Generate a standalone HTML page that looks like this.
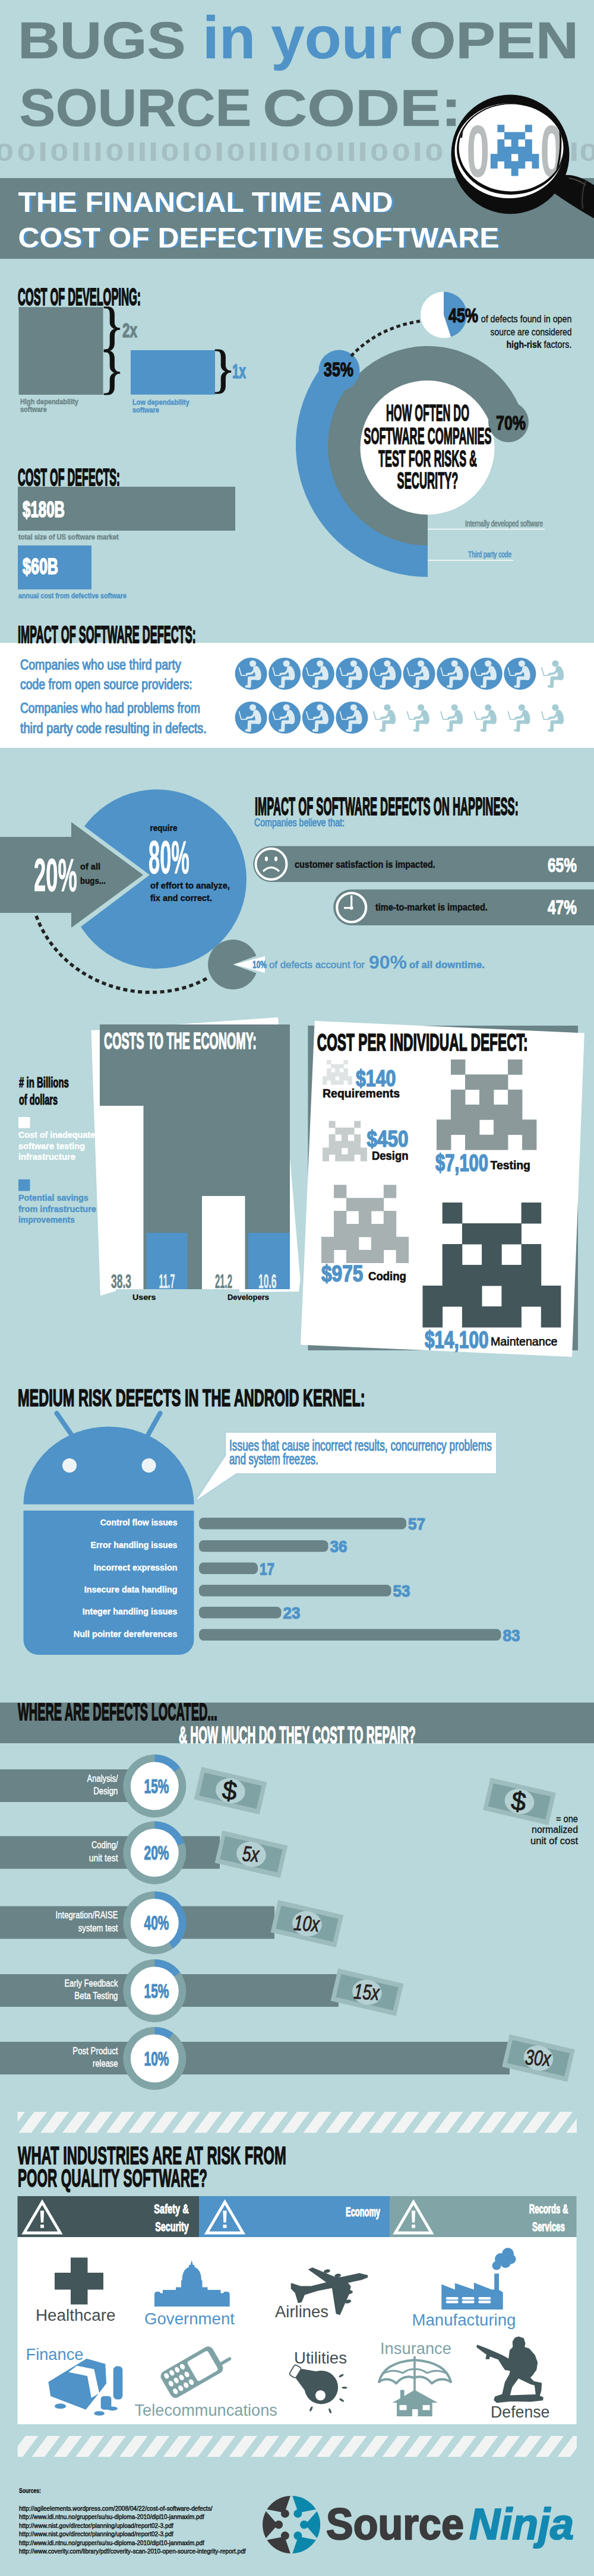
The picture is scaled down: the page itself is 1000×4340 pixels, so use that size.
<!DOCTYPE html>
<html lang="en"><head><meta charset="utf-8"><title>Bugs in your Open Source Code</title>
<style>html,body{margin:0;padding:0;background:#b8d8db}svg{display:block}text{font-family:"Liberation Sans",sans-serif}</style>
</head><body>
<svg width="1000" height="4340" viewBox="0 0 1000 4340">
<defs><filter id="sh" x="-5%" y="-20%" width="110%" height="150%"><feOffset in="SourceAlpha" dx="3.5" dy="0.6" result="o"/><feFlood flood-color="#4f93c8"/><feComposite in2="o" operator="in" result="s"/><feMerge><feMergeNode in="s"/><feMergeNode in="SourceGraphic"/></feMerge></filter></defs>
<rect x="0.0" y="0.0" width="1000.0" height="4340.0" fill="#b8d8db" />
<text transform="translate(29.9,98.0) scale(1.1127,1)" font-size="88.0" font-weight="bold" fill="#698386" text-anchor="start" stroke="#698386" stroke-width="0.60" stroke-linejoin="round" vector-effect="non-scaling-stroke" >BUGS</text>
<text transform="translate(341.1,98.0) scale(1.0026,1)" font-size="100.0" font-weight="bold" fill="#4f93c8" text-anchor="start" stroke="#4f93c8" stroke-width="0.30" stroke-linejoin="round" vector-effect="non-scaling-stroke" >in</text>
<text transform="translate(456.3,98.0) scale(1.0158,1)" font-size="100.0" font-weight="bold" fill="#4f93c8" text-anchor="start" stroke="#4f93c8" stroke-width="0.30" stroke-linejoin="round" vector-effect="non-scaling-stroke" >your</text>
<text transform="translate(689.2,98.0) scale(1.1422,1)" font-size="88.0" font-weight="bold" fill="#698386" text-anchor="start" stroke="#698386" stroke-width="0.60" stroke-linejoin="round" vector-effect="non-scaling-stroke" >OPEN</text>
<text transform="translate(32.6,212.0) scale(1.0384,1)" font-size="88.0" font-weight="bold" fill="#698386" text-anchor="start" stroke="#698386" stroke-width="0.60" stroke-linejoin="round" vector-effect="non-scaling-stroke" >SOURCE</text>
<text transform="translate(442.2,212.0) scale(1.1806,1)" font-size="88.0" font-weight="bold" fill="#698386" text-anchor="start" stroke="#698386" stroke-width="0.60" stroke-linejoin="round" vector-effect="non-scaling-stroke" >CODE:</text>
<text transform="translate(0,270.6) scale(1.320,1)" font-size="42.5" font-weight="bold" fill="#a5bec2" x="-6.0 21.8 63.9 134.4 204.9 246.9 289.0 359.5 401.5 472.0 499.9 541.9 739.1">0000000000000</text>
<clipPath id="c1"><rect x="67.75" y="240" width="8.75" height="32"/><rect x="123.25" y="240" width="8.75" height="32"/><rect x="142.00" y="240" width="8.75" height="32"/><rect x="160.75" y="240" width="8.75" height="32"/><rect x="216.25" y="240" width="8.75" height="32"/><rect x="235.00" y="240" width="8.75" height="32"/><rect x="253.75" y="240" width="8.75" height="32"/><rect x="309.25" y="240" width="8.75" height="32"/><rect x="364.75" y="240" width="8.75" height="32"/><rect x="420.25" y="240" width="8.75" height="32"/><rect x="439.00" y="240" width="8.75" height="32"/><rect x="457.75" y="240" width="8.75" height="32"/><rect x="513.25" y="240" width="8.75" height="32"/><rect x="568.75" y="240" width="8.75" height="32"/><rect x="587.50" y="240" width="8.75" height="32"/><rect x="606.25" y="240" width="8.75" height="32"/><rect x="698.50" y="240" width="8.75" height="32"/><rect x="962.00" y="240" width="8.75" height="32"/></clipPath>
<g clip-path="url(#c1)"><text transform="translate(0,271.2) scale(1.458,1)" font-size="43.8" font-weight="bold" fill="#a5bec2" x="36.3 74.3 87.2 100.0 138.1 151.0 163.8 201.9 239.9 278.0 290.9 303.7 341.8 379.8 392.7 405.6 468.8 649.5">111111111111111111</text></g>
<rect x="0.0" y="300.0" width="1000.0" height="136.0" fill="#698386" />
<g filter="url(#sh)">
<text transform="translate(30.6,356.7) scale(1.0227,1)" font-size="48.5" font-weight="bold" fill="#ffffff" text-anchor="start" >THE FINANCIAL TIME AND</text>
<text transform="translate(30.6,417.2) scale(1.0260,1)" font-size="48.5" font-weight="bold" fill="#ffffff" text-anchor="start" >COST OF DEFECTIVE SOFTWARE</text>
</g>
<path d="M943 296 Q968 290 1000 312 L1000 368 Q960 345 928 322 Z" fill="#0d0d0d"/>
<path d="M958 300 Q975 303 986 312" stroke="#4a4a4a" stroke-width="2" fill="none"/>
<path d="M986 305 Q978 325 981 352" stroke="#3a3a3a" stroke-width="2" fill="none"/>
<ellipse cx="859" cy="260" rx="99.5" ry="100.5" fill="#0d0d0d"/>
<ellipse cx="857" cy="254" rx="91.5" ry="80" fill="#fff"/>
<ellipse cx="859.5" cy="251" rx="90.5" ry="77" fill="#0d0d0d"/>
<clipPath id="lens"><ellipse cx="860.5" cy="249" rx="88" ry="73.5"/></clipPath>
<ellipse cx="860.5" cy="249" rx="88" ry="73.5" fill="#fff"/>
<g clip-path="url(#lens)">
<text transform="translate(0,297.5) scale(0.558,1)" font-size="124" font-weight="bold" fill="#b9bcbd" x="1407.5 1629.8">00</text>
<path d="M930 175 Q960 240 925 325" stroke="#0d0d0d" stroke-width="3" fill="none"/>
<path d="M790 190 Q778 210 776 232" stroke="#0d0d0d" stroke-width="4" fill="none"/>
</g>
<path d="M837.4 210.2h11.9v12.6h-11.9zM883.9 210.2h11.9v12.6h-11.9zM849.0 222.5h11.9v12.6h-11.9zM860.7 222.5h11.9v12.6h-11.9zM872.3 222.5h11.9v12.6h-11.9zM837.4 234.7h11.9v12.6h-11.9zM860.7 234.7h11.9v12.6h-11.9zM883.9 234.7h11.9v12.6h-11.9zM837.4 247.0h11.9v12.6h-11.9zM849.0 247.0h11.9v12.6h-11.9zM860.7 247.0h11.9v12.6h-11.9zM872.3 247.0h11.9v12.6h-11.9zM883.9 247.0h11.9v12.6h-11.9zM825.8 259.3h11.9v12.6h-11.9zM837.4 259.3h11.9v12.6h-11.9zM849.0 259.3h11.9v12.6h-11.9zM872.3 259.3h11.9v12.6h-11.9zM883.9 259.3h11.9v12.6h-11.9zM895.5 259.3h11.9v12.6h-11.9zM825.8 271.5h11.9v12.6h-11.9zM849.0 271.5h11.9v12.6h-11.9zM860.7 271.5h11.9v12.6h-11.9zM872.3 271.5h11.9v12.6h-11.9zM895.5 271.5h11.9v12.6h-11.9zM860.7 283.8h11.9v12.6h-11.9z" fill="#4f93c8"/>
<text transform="translate(30.0,514.0) scale(0.4296,1)" font-size="41.5" font-weight="bold" fill="#111111" text-anchor="start" stroke="#111111" stroke-width="1.60" stroke-linejoin="round" vector-effect="non-scaling-stroke" >COST OF DEVELOPING:</text>
<rect x="31.6" y="517.4" width="142.0" height="147.6" fill="#698386" />
<rect x="220.0" y="590.0" width="142.0" height="74.8" fill="#4f93c8" />
<text transform="translate(167.0,579.0) scale(1.0000,1)" font-size="89.4" font-weight="normal" style="font-family:'Liberation Serif',serif" fill="#111111" text-anchor="start" stroke="#111111" stroke-width="0.90" stroke-linejoin="round" vector-effect="non-scaling-stroke" >}</text>
<text transform="translate(167.0,653.0) scale(1.0000,1)" font-size="89.4" font-weight="normal" style="font-family:'Liberation Serif',serif" fill="#111111" text-anchor="start" stroke="#111111" stroke-width="0.90" stroke-linejoin="round" vector-effect="non-scaling-stroke" >}</text>
<text transform="translate(354.0,651.0) scale(1.0000,1)" font-size="89.4" font-weight="normal" style="font-family:'Liberation Serif',serif" fill="#111111" text-anchor="start" stroke="#111111" stroke-width="0.90" stroke-linejoin="round" vector-effect="non-scaling-stroke" >}</text>
<text transform="translate(206.0,568.0) scale(0.6610,1)" font-size="34.0" font-weight="bold" fill="#698386" text-anchor="start" stroke="#698386" stroke-width="1.20" stroke-linejoin="round" vector-effect="non-scaling-stroke" >2x</text>
<text transform="translate(391.0,637.0) scale(0.6082,1)" font-size="34.0" font-weight="bold" fill="#4f93c8" text-anchor="start" stroke="#4f93c8" stroke-width="1.20" stroke-linejoin="round" vector-effect="non-scaling-stroke" >1x</text>
<text transform="translate(34.0,680.5) scale(0.8116,1)" font-size="13.5" font-weight="bold" fill="#6e8789" text-anchor="start" stroke="#6e8789" stroke-width="0.45" stroke-linejoin="round" vector-effect="non-scaling-stroke" >High dependability</text>
<text transform="translate(34.0,694.0) scale(0.8106,1)" font-size="13.5" font-weight="bold" fill="#6e8789" text-anchor="start" stroke="#6e8789" stroke-width="0.45" stroke-linejoin="round" vector-effect="non-scaling-stroke" >software</text>
<text transform="translate(223.0,681.5) scale(0.8152,1)" font-size="13.5" font-weight="bold" fill="#4f93c8" text-anchor="start" stroke="#4f93c8" stroke-width="0.45" stroke-linejoin="round" vector-effect="non-scaling-stroke" >Low dependability</text>
<text transform="translate(223.0,695.0) scale(0.8106,1)" font-size="13.5" font-weight="bold" fill="#4f93c8" text-anchor="start" stroke="#4f93c8" stroke-width="0.45" stroke-linejoin="round" vector-effect="non-scaling-stroke" >software</text>
<text transform="translate(30.0,818.0) scale(0.4263,1)" font-size="41.5" font-weight="bold" fill="#111111" text-anchor="start" stroke="#111111" stroke-width="1.60" stroke-linejoin="round" vector-effect="non-scaling-stroke" >COST OF DEFECTS:</text>
<rect x="30.0" y="820.0" width="366.0" height="74.0" fill="#698386" />
<text transform="translate(38.0,871.0) scale(0.6512,1)" font-size="37.0" font-weight="bold" fill="#ffffff" text-anchor="start" stroke="#ffffff" stroke-width="1.50" stroke-linejoin="round" vector-effect="non-scaling-stroke" >$180B</text>
<text transform="translate(31.0,908.5) scale(0.8282,1)" font-size="13.5" font-weight="bold" fill="#6e8789" text-anchor="start" stroke="#6e8789" stroke-width="0.45" stroke-linejoin="round" vector-effect="non-scaling-stroke" >total size of US software market</text>
<rect x="30.0" y="919.0" width="124.0" height="74.0" fill="#4f93c8" />
<text transform="translate(38.0,967.0) scale(0.6783,1)" font-size="37.0" font-weight="bold" fill="#ffffff" text-anchor="start" stroke="#ffffff" stroke-width="1.50" stroke-linejoin="round" vector-effect="non-scaling-stroke" >$60B</text>
<text transform="translate(31.0,1007.5) scale(0.7902,1)" font-size="13.5" font-weight="bold" fill="#4f93c8" text-anchor="start" stroke="#4f93c8" stroke-width="0.45" stroke-linejoin="round" vector-effect="non-scaling-stroke" >annual cost from defective software</text>
<path d="M720.0 972.0 A222.0 222.0 0 0 1 540.4 619.5 L598.6 661.8 A150.0 150.0 0 0 0 720.0 900.0 Z" fill="#4f93c8" />
<path d="M720.0 919.0 A168.0 168.0 0 1 1 879.8 699.1 L815.1 720.1 A100.0 100.0 0 1 0 720.0 851.0 Z" fill="#698386" />
<circle cx="719.5" cy="754.0" r="113.0" fill="#ffffff" />
<circle cx="571.0" cy="624.0" r="34.5" fill="#4f93c8" />
<circle cx="856.0" cy="711.0" r="34.0" fill="#698386" />
<circle cx="747.0" cy="530.5" r="39.0" fill="#ffffff" />
<path d="M747.0 530.5 L747.0 491.5 A39.0 39.0 0 0 1 759.1 567.6 Z" fill="#4f93c8" />
<path d="M591 600 Q636 552 707 541" fill="none" stroke="#222" stroke-width="5" stroke-dasharray="6.5 5"/>
<text transform="translate(755.0,543.0) scale(0.7570,1)" font-size="33.0" font-weight="bold" fill="#111111" text-anchor="start" stroke="#111111" stroke-width="1.30" stroke-linejoin="round" vector-effect="non-scaling-stroke" >45%</text>
<text transform="translate(962.5,543.0) scale(0.8958,1)" font-size="16.0" font-weight="normal" fill="#111111" text-anchor="end" stroke="#111111" stroke-width="0.30" stroke-linejoin="round" vector-effect="non-scaling-stroke" >of defects found in open</text>
<text transform="translate(962.5,564.5) scale(0.8654,1)" font-size="16.0" font-weight="normal" fill="#111111" text-anchor="end" stroke="#111111" stroke-width="0.30" stroke-linejoin="round" vector-effect="non-scaling-stroke" >source are considered</text>
<text transform="translate(911.5,586.0) scale(0.8733,1)" font-size="16.0" font-weight="bold" fill="#111111" text-anchor="end" stroke="#111111" stroke-width="0.30" stroke-linejoin="round" vector-effect="non-scaling-stroke" >high-risk</text>
<text transform="translate(962.5,586.0) scale(0.8959,1)" font-size="16.0" font-weight="normal" fill="#111111" text-anchor="end" stroke="#111111" stroke-width="0.30" stroke-linejoin="round" vector-effect="non-scaling-stroke" >factors.</text>
<text transform="translate(545.0,634.0) scale(0.7348,1)" font-size="34.0" font-weight="bold" fill="#111111" text-anchor="start" stroke="#111111" stroke-width="1.30" stroke-linejoin="round" vector-effect="non-scaling-stroke" >35%</text>
<text transform="translate(835.0,724.0) scale(0.7348,1)" font-size="34.0" font-weight="bold" fill="#111111" text-anchor="start" stroke="#111111" stroke-width="1.30" stroke-linejoin="round" vector-effect="non-scaling-stroke" >70%</text>
<text transform="translate(720.0,709.0) scale(0.4671,1)" font-size="38.0" font-weight="bold" fill="#111111" text-anchor="middle" stroke="#111111" stroke-width="1.10" stroke-linejoin="round" vector-effect="non-scaling-stroke" >HOW OFTEN DO</text>
<text transform="translate(720.0,748.0) scale(0.4744,1)" font-size="38.0" font-weight="bold" fill="#111111" text-anchor="middle" stroke="#111111" stroke-width="1.10" stroke-linejoin="round" vector-effect="non-scaling-stroke" >SOFTWARE COMPANIES</text>
<text transform="translate(720.0,786.0) scale(0.4708,1)" font-size="38.0" font-weight="bold" fill="#111111" text-anchor="middle" stroke="#111111" stroke-width="1.10" stroke-linejoin="round" vector-effect="non-scaling-stroke" >TEST FOR RISKS &amp;</text>
<text transform="translate(720.0,823.0) scale(0.4783,1)" font-size="38.0" font-weight="bold" fill="#111111" text-anchor="middle" stroke="#111111" stroke-width="1.10" stroke-linejoin="round" vector-effect="non-scaling-stroke" >SECURITY?</text>
<text transform="translate(914.0,887.0) scale(0.7193,1)" font-size="14.0" font-weight="normal" fill="#6e8789" text-anchor="end" stroke="#6e8789" stroke-width="0.65" stroke-linejoin="round" vector-effect="non-scaling-stroke" >Internally developed software</text>
<rect x="720.0" y="890.8" width="197.0" height="1.4" fill="#ffffff" />
<text transform="translate(861.0,939.0) scale(0.7216,1)" font-size="14.0" font-weight="normal" fill="#4f93c8" text-anchor="end" stroke="#4f93c8" stroke-width="0.65" stroke-linejoin="round" vector-effect="non-scaling-stroke" >Third party code</text>
<rect x="720.0" y="943.3" width="144.0" height="1.4" fill="#ffffff" />
<rect x="0.0" y="1083.0" width="1000.0" height="177.0" fill="#ffffff" />
<text transform="translate(30.0,1083.0) scale(0.4395,1)" font-size="41.0" font-weight="bold" fill="#111111" text-anchor="start" stroke="#111111" stroke-width="1.40" stroke-linejoin="round" vector-effect="non-scaling-stroke" >IMPACT OF SOFTWARE DEFECTS:</text>
<text transform="translate(34.0,1127.5) scale(0.8024,1)" font-size="24.5" font-weight="normal" fill="#4f93c8" text-anchor="start" stroke="#4f93c8" stroke-width="1.10" stroke-linejoin="round" vector-effect="non-scaling-stroke" >Companies who use third party</text>
<text transform="translate(34.0,1160.5) scale(0.7946,1)" font-size="24.5" font-weight="normal" fill="#4f93c8" text-anchor="start" stroke="#4f93c8" stroke-width="1.10" stroke-linejoin="round" vector-effect="non-scaling-stroke" >code from open source providers:</text>
<text transform="translate(34.0,1201.0) scale(0.7835,1)" font-size="24.5" font-weight="normal" fill="#4f93c8" text-anchor="start" stroke="#4f93c8" stroke-width="1.10" stroke-linejoin="round" vector-effect="non-scaling-stroke" >Companies who had problems from</text>
<text transform="translate(34.0,1234.5) scale(0.8119,1)" font-size="24.5" font-weight="normal" fill="#4f93c8" text-anchor="start" stroke="#4f93c8" stroke-width="1.10" stroke-linejoin="round" vector-effect="non-scaling-stroke" >third party code resulting in defects.</text>
<circle cx="422.6" cy="1135.0" r="27.0" fill="#4f93c8" />
<g transform="translate(422.6,1135.0)" fill="none" stroke="#dcebf1" stroke-linecap="round" stroke-linejoin="round">
<circle cx="3" cy="-17" r="5.6" fill="#dcebf1" stroke="none"/>
<path d="M8.5 -8 Q13 -2 12 6" stroke-width="10"/>
<path d="M13 7.5 L-2.5 7.5 L-3 21" stroke-width="6"/>
<path d="M-3 21.5 L-8 21.5" stroke-width="4"/>
<path d="M7 -7 L1 -0.5 L-7 0.5" stroke-width="3.6"/>
<path d="M-20 -10 L-16.5 2.8 L-7 2.8" stroke-width="1.8"/>
</g>
<circle cx="479.2" cy="1135.0" r="27.0" fill="#4f93c8" />
<g transform="translate(479.2,1135.0)" fill="none" stroke="#dcebf1" stroke-linecap="round" stroke-linejoin="round">
<circle cx="3" cy="-17" r="5.6" fill="#dcebf1" stroke="none"/>
<path d="M8.5 -8 Q13 -2 12 6" stroke-width="10"/>
<path d="M13 7.5 L-2.5 7.5 L-3 21" stroke-width="6"/>
<path d="M-3 21.5 L-8 21.5" stroke-width="4"/>
<path d="M7 -7 L1 -0.5 L-7 0.5" stroke-width="3.6"/>
<path d="M-20 -10 L-16.5 2.8 L-7 2.8" stroke-width="1.8"/>
</g>
<circle cx="535.8" cy="1135.0" r="27.0" fill="#4f93c8" />
<g transform="translate(535.8,1135.0)" fill="none" stroke="#dcebf1" stroke-linecap="round" stroke-linejoin="round">
<circle cx="3" cy="-17" r="5.6" fill="#dcebf1" stroke="none"/>
<path d="M8.5 -8 Q13 -2 12 6" stroke-width="10"/>
<path d="M13 7.5 L-2.5 7.5 L-3 21" stroke-width="6"/>
<path d="M-3 21.5 L-8 21.5" stroke-width="4"/>
<path d="M7 -7 L1 -0.5 L-7 0.5" stroke-width="3.6"/>
<path d="M-20 -10 L-16.5 2.8 L-7 2.8" stroke-width="1.8"/>
</g>
<circle cx="592.4" cy="1135.0" r="27.0" fill="#4f93c8" />
<g transform="translate(592.4,1135.0)" fill="none" stroke="#dcebf1" stroke-linecap="round" stroke-linejoin="round">
<circle cx="3" cy="-17" r="5.6" fill="#dcebf1" stroke="none"/>
<path d="M8.5 -8 Q13 -2 12 6" stroke-width="10"/>
<path d="M13 7.5 L-2.5 7.5 L-3 21" stroke-width="6"/>
<path d="M-3 21.5 L-8 21.5" stroke-width="4"/>
<path d="M7 -7 L1 -0.5 L-7 0.5" stroke-width="3.6"/>
<path d="M-20 -10 L-16.5 2.8 L-7 2.8" stroke-width="1.8"/>
</g>
<circle cx="649.0" cy="1135.0" r="27.0" fill="#4f93c8" />
<g transform="translate(649.0,1135.0)" fill="none" stroke="#dcebf1" stroke-linecap="round" stroke-linejoin="round">
<circle cx="3" cy="-17" r="5.6" fill="#dcebf1" stroke="none"/>
<path d="M8.5 -8 Q13 -2 12 6" stroke-width="10"/>
<path d="M13 7.5 L-2.5 7.5 L-3 21" stroke-width="6"/>
<path d="M-3 21.5 L-8 21.5" stroke-width="4"/>
<path d="M7 -7 L1 -0.5 L-7 0.5" stroke-width="3.6"/>
<path d="M-20 -10 L-16.5 2.8 L-7 2.8" stroke-width="1.8"/>
</g>
<circle cx="705.6" cy="1135.0" r="27.0" fill="#4f93c8" />
<g transform="translate(705.6,1135.0)" fill="none" stroke="#dcebf1" stroke-linecap="round" stroke-linejoin="round">
<circle cx="3" cy="-17" r="5.6" fill="#dcebf1" stroke="none"/>
<path d="M8.5 -8 Q13 -2 12 6" stroke-width="10"/>
<path d="M13 7.5 L-2.5 7.5 L-3 21" stroke-width="6"/>
<path d="M-3 21.5 L-8 21.5" stroke-width="4"/>
<path d="M7 -7 L1 -0.5 L-7 0.5" stroke-width="3.6"/>
<path d="M-20 -10 L-16.5 2.8 L-7 2.8" stroke-width="1.8"/>
</g>
<circle cx="762.2" cy="1135.0" r="27.0" fill="#4f93c8" />
<g transform="translate(762.2,1135.0)" fill="none" stroke="#dcebf1" stroke-linecap="round" stroke-linejoin="round">
<circle cx="3" cy="-17" r="5.6" fill="#dcebf1" stroke="none"/>
<path d="M8.5 -8 Q13 -2 12 6" stroke-width="10"/>
<path d="M13 7.5 L-2.5 7.5 L-3 21" stroke-width="6"/>
<path d="M-3 21.5 L-8 21.5" stroke-width="4"/>
<path d="M7 -7 L1 -0.5 L-7 0.5" stroke-width="3.6"/>
<path d="M-20 -10 L-16.5 2.8 L-7 2.8" stroke-width="1.8"/>
</g>
<circle cx="818.8" cy="1135.0" r="27.0" fill="#4f93c8" />
<g transform="translate(818.8,1135.0)" fill="none" stroke="#dcebf1" stroke-linecap="round" stroke-linejoin="round">
<circle cx="3" cy="-17" r="5.6" fill="#dcebf1" stroke="none"/>
<path d="M8.5 -8 Q13 -2 12 6" stroke-width="10"/>
<path d="M13 7.5 L-2.5 7.5 L-3 21" stroke-width="6"/>
<path d="M-3 21.5 L-8 21.5" stroke-width="4"/>
<path d="M7 -7 L1 -0.5 L-7 0.5" stroke-width="3.6"/>
<path d="M-20 -10 L-16.5 2.8 L-7 2.8" stroke-width="1.8"/>
</g>
<circle cx="875.4" cy="1135.0" r="27.0" fill="#4f93c8" />
<g transform="translate(875.4,1135.0)" fill="none" stroke="#dcebf1" stroke-linecap="round" stroke-linejoin="round">
<circle cx="3" cy="-17" r="5.6" fill="#dcebf1" stroke="none"/>
<path d="M8.5 -8 Q13 -2 12 6" stroke-width="10"/>
<path d="M13 7.5 L-2.5 7.5 L-3 21" stroke-width="6"/>
<path d="M-3 21.5 L-8 21.5" stroke-width="4"/>
<path d="M7 -7 L1 -0.5 L-7 0.5" stroke-width="3.6"/>
<path d="M-20 -10 L-16.5 2.8 L-7 2.8" stroke-width="1.8"/>
</g>
<g transform="translate(932.0,1135.0)" fill="none" stroke="#a5ccd4" stroke-linecap="round" stroke-linejoin="round">
<circle cx="3" cy="-17" r="5.6" fill="#a5ccd4" stroke="none"/>
<path d="M8.5 -8 Q13 -2 12 6" stroke-width="10"/>
<path d="M13 7.5 L-2.5 7.5 L-3 21" stroke-width="6"/>
<path d="M-3 21.5 L-8 21.5" stroke-width="4"/>
<path d="M7 -7 L1 -0.5 L-7 0.5" stroke-width="3.6"/>
<path d="M-20 -10 L-16.5 2.8 L-7 2.8" stroke-width="1.8"/>
</g>
<circle cx="422.6" cy="1209.0" r="27.0" fill="#4f93c8" />
<g transform="translate(422.6,1209.0)" fill="none" stroke="#dcebf1" stroke-linecap="round" stroke-linejoin="round">
<circle cx="3" cy="-17" r="5.6" fill="#dcebf1" stroke="none"/>
<path d="M8.5 -8 Q13 -2 12 6" stroke-width="10"/>
<path d="M13 7.5 L-2.5 7.5 L-3 21" stroke-width="6"/>
<path d="M-3 21.5 L-8 21.5" stroke-width="4"/>
<path d="M7 -7 L1 -0.5 L-7 0.5" stroke-width="3.6"/>
<path d="M-20 -10 L-16.5 2.8 L-7 2.8" stroke-width="1.8"/>
</g>
<circle cx="479.2" cy="1209.0" r="27.0" fill="#4f93c8" />
<g transform="translate(479.2,1209.0)" fill="none" stroke="#dcebf1" stroke-linecap="round" stroke-linejoin="round">
<circle cx="3" cy="-17" r="5.6" fill="#dcebf1" stroke="none"/>
<path d="M8.5 -8 Q13 -2 12 6" stroke-width="10"/>
<path d="M13 7.5 L-2.5 7.5 L-3 21" stroke-width="6"/>
<path d="M-3 21.5 L-8 21.5" stroke-width="4"/>
<path d="M7 -7 L1 -0.5 L-7 0.5" stroke-width="3.6"/>
<path d="M-20 -10 L-16.5 2.8 L-7 2.8" stroke-width="1.8"/>
</g>
<circle cx="535.8" cy="1209.0" r="27.0" fill="#4f93c8" />
<g transform="translate(535.8,1209.0)" fill="none" stroke="#dcebf1" stroke-linecap="round" stroke-linejoin="round">
<circle cx="3" cy="-17" r="5.6" fill="#dcebf1" stroke="none"/>
<path d="M8.5 -8 Q13 -2 12 6" stroke-width="10"/>
<path d="M13 7.5 L-2.5 7.5 L-3 21" stroke-width="6"/>
<path d="M-3 21.5 L-8 21.5" stroke-width="4"/>
<path d="M7 -7 L1 -0.5 L-7 0.5" stroke-width="3.6"/>
<path d="M-20 -10 L-16.5 2.8 L-7 2.8" stroke-width="1.8"/>
</g>
<circle cx="592.4" cy="1209.0" r="27.0" fill="#4f93c8" />
<g transform="translate(592.4,1209.0)" fill="none" stroke="#dcebf1" stroke-linecap="round" stroke-linejoin="round">
<circle cx="3" cy="-17" r="5.6" fill="#dcebf1" stroke="none"/>
<path d="M8.5 -8 Q13 -2 12 6" stroke-width="10"/>
<path d="M13 7.5 L-2.5 7.5 L-3 21" stroke-width="6"/>
<path d="M-3 21.5 L-8 21.5" stroke-width="4"/>
<path d="M7 -7 L1 -0.5 L-7 0.5" stroke-width="3.6"/>
<path d="M-20 -10 L-16.5 2.8 L-7 2.8" stroke-width="1.8"/>
</g>
<g transform="translate(649.0,1209.0)" fill="none" stroke="#a5ccd4" stroke-linecap="round" stroke-linejoin="round">
<circle cx="3" cy="-17" r="5.6" fill="#a5ccd4" stroke="none"/>
<path d="M8.5 -8 Q13 -2 12 6" stroke-width="10"/>
<path d="M13 7.5 L-2.5 7.5 L-3 21" stroke-width="6"/>
<path d="M-3 21.5 L-8 21.5" stroke-width="4"/>
<path d="M7 -7 L1 -0.5 L-7 0.5" stroke-width="3.6"/>
<path d="M-20 -10 L-16.5 2.8 L-7 2.8" stroke-width="1.8"/>
</g>
<g transform="translate(705.6,1209.0)" fill="none" stroke="#a5ccd4" stroke-linecap="round" stroke-linejoin="round">
<circle cx="3" cy="-17" r="5.6" fill="#a5ccd4" stroke="none"/>
<path d="M8.5 -8 Q13 -2 12 6" stroke-width="10"/>
<path d="M13 7.5 L-2.5 7.5 L-3 21" stroke-width="6"/>
<path d="M-3 21.5 L-8 21.5" stroke-width="4"/>
<path d="M7 -7 L1 -0.5 L-7 0.5" stroke-width="3.6"/>
<path d="M-20 -10 L-16.5 2.8 L-7 2.8" stroke-width="1.8"/>
</g>
<g transform="translate(762.2,1209.0)" fill="none" stroke="#a5ccd4" stroke-linecap="round" stroke-linejoin="round">
<circle cx="3" cy="-17" r="5.6" fill="#a5ccd4" stroke="none"/>
<path d="M8.5 -8 Q13 -2 12 6" stroke-width="10"/>
<path d="M13 7.5 L-2.5 7.5 L-3 21" stroke-width="6"/>
<path d="M-3 21.5 L-8 21.5" stroke-width="4"/>
<path d="M7 -7 L1 -0.5 L-7 0.5" stroke-width="3.6"/>
<path d="M-20 -10 L-16.5 2.8 L-7 2.8" stroke-width="1.8"/>
</g>
<g transform="translate(818.8,1209.0)" fill="none" stroke="#a5ccd4" stroke-linecap="round" stroke-linejoin="round">
<circle cx="3" cy="-17" r="5.6" fill="#a5ccd4" stroke="none"/>
<path d="M8.5 -8 Q13 -2 12 6" stroke-width="10"/>
<path d="M13 7.5 L-2.5 7.5 L-3 21" stroke-width="6"/>
<path d="M-3 21.5 L-8 21.5" stroke-width="4"/>
<path d="M7 -7 L1 -0.5 L-7 0.5" stroke-width="3.6"/>
<path d="M-20 -10 L-16.5 2.8 L-7 2.8" stroke-width="1.8"/>
</g>
<g transform="translate(875.4,1209.0)" fill="none" stroke="#a5ccd4" stroke-linecap="round" stroke-linejoin="round">
<circle cx="3" cy="-17" r="5.6" fill="#a5ccd4" stroke="none"/>
<path d="M8.5 -8 Q13 -2 12 6" stroke-width="10"/>
<path d="M13 7.5 L-2.5 7.5 L-3 21" stroke-width="6"/>
<path d="M-3 21.5 L-8 21.5" stroke-width="4"/>
<path d="M7 -7 L1 -0.5 L-7 0.5" stroke-width="3.6"/>
<path d="M-20 -10 L-16.5 2.8 L-7 2.8" stroke-width="1.8"/>
</g>
<g transform="translate(932.0,1209.0)" fill="none" stroke="#a5ccd4" stroke-linecap="round" stroke-linejoin="round">
<circle cx="3" cy="-17" r="5.6" fill="#a5ccd4" stroke="none"/>
<path d="M8.5 -8 Q13 -2 12 6" stroke-width="10"/>
<path d="M13 7.5 L-2.5 7.5 L-3 21" stroke-width="6"/>
<path d="M-3 21.5 L-8 21.5" stroke-width="4"/>
<path d="M7 -7 L1 -0.5 L-7 0.5" stroke-width="3.6"/>
<path d="M-20 -10 L-16.5 2.8 L-7 2.8" stroke-width="1.8"/>
</g>
<circle cx="264.0" cy="1481.0" r="151.0" fill="#4f93c8" />
<path d="M252 1474 L100 1361 L60 1474 L100 1588.6 Z" fill="#b8d8db"/>
<path d="M0 1410 L120 1410 L120 1385 L241 1474 L120 1563 L120 1538 L0 1538 Z" fill="#698386"/>
<text transform="translate(57.0,1501.0) scale(0.4676,1)" font-size="78.0" font-weight="bold" fill="#ffffff" text-anchor="start" stroke="#ffffff" stroke-width="0.60" stroke-linejoin="round" vector-effect="non-scaling-stroke" >20%</text>
<text transform="translate(135.0,1465.0) scale(0.9400,1)" font-size="15.5" font-weight="bold" fill="#111111" text-anchor="start" stroke="#111111" stroke-width="0.40" stroke-linejoin="round" vector-effect="non-scaling-stroke" >of all</text>
<text transform="translate(135.0,1489.0) scale(0.8610,1)" font-size="15.5" font-weight="bold" fill="#111111" text-anchor="start" stroke="#111111" stroke-width="0.40" stroke-linejoin="round" vector-effect="non-scaling-stroke" >bugs...</text>
<text transform="translate(252.5,1400.0) scale(0.8754,1)" font-size="15.5" font-weight="bold" fill="#111111" text-anchor="start" stroke="#111111" stroke-width="0.40" stroke-linejoin="round" vector-effect="non-scaling-stroke" >require</text>
<text transform="translate(250.0,1471.0) scale(0.4420,1)" font-size="78.0" font-weight="bold" fill="#ffffff" text-anchor="start" stroke="#ffffff" stroke-width="0.60" stroke-linejoin="round" vector-effect="non-scaling-stroke" >80%</text>
<text transform="translate(253.0,1497.0) scale(0.9430,1)" font-size="15.5" font-weight="bold" fill="#111111" text-anchor="start" stroke="#111111" stroke-width="0.40" stroke-linejoin="round" vector-effect="non-scaling-stroke" >of effort to analyze,</text>
<text transform="translate(253.0,1518.0) scale(0.9359,1)" font-size="15.5" font-weight="bold" fill="#111111" text-anchor="start" stroke="#111111" stroke-width="0.40" stroke-linejoin="round" vector-effect="non-scaling-stroke" >fix and correct.</text>
<path d="M61 1543 C102 1656 245 1705 349 1648" fill="none" stroke="#222" stroke-width="5.5" stroke-dasharray="7 5.5"/>
<path d="M392.0 1625.0 L431.5 1639.4 A42.0 42.0 0 1 1 431.5 1610.6 Z" fill="#698386" />
<path d="M394 1625 L446 1611 L446 1639 Z" fill="#fff"/>
<text transform="translate(429.0,1373.0) scale(0.4318,1)" font-size="42.0" font-weight="bold" fill="#111111" text-anchor="start" stroke="#111111" stroke-width="1.40" stroke-linejoin="round" vector-effect="non-scaling-stroke" >IMPACT OF SOFTWARE DEFECTS ON HAPPINESS:</text>
<text transform="translate(428.0,1391.5) scale(0.7457,1)" font-size="19.0" font-weight="normal" fill="#4f93c8" text-anchor="start" stroke="#4f93c8" stroke-width="0.90" stroke-linejoin="round" vector-effect="non-scaling-stroke" >Companies believe that:</text>
<path d="M456.5 1425.5 H1000 V1486 H456.5 A30.25 30.25 0 0 1 456.5 1425.5 Z" fill="#698386"/>
<path d="M591.5 1498.5 H1000 V1559 H591.5 A30.25 30.25 0 0 1 591.5 1498.5 Z" fill="#698386"/>
<g fill="none" stroke="#fff" stroke-width="4"><circle cx="456.5" cy="1455.7" r="26"/><path d="M443 1468 Q456.5 1455 470 1468" stroke-width="3.2"/></g>
<ellipse cx="448.5" cy="1447" rx="2.6" ry="4" fill="#fff"/><ellipse cx="464.5" cy="1447" rx="2.6" ry="4" fill="#fff"/>
<g fill="none" stroke="#fff" stroke-width="4.2"><circle cx="591.7" cy="1529" r="24.5"/><path d="M591.7 1508.5 V1529.7 H579" stroke-width="3.2"/></g>
<circle cx="591.7" cy="1529.7" r="3.0" fill="#fff" />
<text transform="translate(496.0,1462.0) scale(0.8761,1)" font-size="16.5" font-weight="bold" fill="#111111" text-anchor="start" stroke="#111111" stroke-width="0.40" stroke-linejoin="round" vector-effect="non-scaling-stroke" >customer satisfaction is impacted.</text>
<text transform="translate(632.0,1533.5) scale(0.8809,1)" font-size="16.5" font-weight="bold" fill="#111111" text-anchor="start" stroke="#111111" stroke-width="0.40" stroke-linejoin="round" vector-effect="non-scaling-stroke" >time-to-market is impacted.</text>
<text transform="translate(922.0,1468.5) scale(0.7308,1)" font-size="33.5" font-weight="bold" fill="#ffffff" text-anchor="start" stroke="#ffffff" stroke-width="1.00" stroke-linejoin="round" vector-effect="non-scaling-stroke" >65%</text>
<text transform="translate(922.0,1540.0) scale(0.7308,1)" font-size="33.5" font-weight="bold" fill="#ffffff" text-anchor="start" stroke="#ffffff" stroke-width="1.00" stroke-linejoin="round" vector-effect="non-scaling-stroke" >47%</text>
<text transform="translate(425.0,1630.5) scale(0.7054,1)" font-size="17.0" font-weight="bold" fill="#4f93c8" text-anchor="start" stroke="#4f93c8" stroke-width="0.80" stroke-linejoin="round" vector-effect="non-scaling-stroke" >10%</text>
<text transform="translate(453.0,1630.5) scale(0.9905,1)" font-size="17.0" font-weight="normal" fill="#4f93c8" text-anchor="start" stroke="#4f93c8" stroke-width="0.50" stroke-linejoin="round" vector-effect="non-scaling-stroke" >of defects account for</text>
<text transform="translate(621.0,1631.5) scale(1.0315,1)" font-size="31.0" font-weight="bold" fill="#4f93c8" text-anchor="start" >90%</text>
<text transform="translate(689.0,1630.5) scale(0.9887,1)" font-size="17.0" font-weight="bold" fill="#4f93c8" text-anchor="start" stroke="#4f93c8" stroke-width="0.50" stroke-linejoin="round" vector-effect="non-scaling-stroke" >of all downtime.</text>
<path d="M153.5 1736 L468 1714 L505.5 2156 L503 2176 L403 2177 L403 2165 L195 2165 L195 2175 L169 2183 Z" fill="#fff"/>
<rect x="168.0" y="1726.0" width="320.0" height="446.0" fill="#698386" />
<text transform="translate(175.0,1766.7) scale(0.4976,1)" font-size="39.5" font-weight="bold" fill="#ffffff" text-anchor="start" stroke="#ffffff" stroke-width="1.20" stroke-linejoin="round" vector-effect="non-scaling-stroke" >COSTS TO THE ECONOMY:</text>
<rect x="168.0" y="1863.0" width="73.5" height="309.0" fill="#ffffff" />
<rect x="246.5" y="2077.0" width="69.0" height="95.0" fill="#4f93c8" />
<rect x="340.0" y="2015.0" width="72.5" height="157.0" fill="#ffffff" />
<rect x="418.0" y="2077.0" width="70.0" height="95.0" fill="#4f93c8" />
<text transform="translate(187.0,2170.0) scale(0.5138,1)" font-size="34.0" font-weight="bold" fill="#698386" text-anchor="start" stroke="#698386" stroke-width="0.50" stroke-linejoin="round" vector-effect="non-scaling-stroke" >38.3</text>
<text transform="translate(267.5,2170.0) scale(0.4199,1)" font-size="34.0" font-weight="bold" fill="#e3eef3" text-anchor="start" stroke="#e3eef3" stroke-width="0.50" stroke-linejoin="round" vector-effect="non-scaling-stroke" >11.7</text>
<text transform="translate(362.0,2170.0) scale(0.4382,1)" font-size="34.0" font-weight="bold" fill="#698386" text-anchor="start" stroke="#698386" stroke-width="0.50" stroke-linejoin="round" vector-effect="non-scaling-stroke" >21.2</text>
<text transform="translate(435.0,2170.0) scale(0.4609,1)" font-size="34.0" font-weight="bold" fill="#e3eef3" text-anchor="start" stroke="#e3eef3" stroke-width="0.50" stroke-linejoin="round" vector-effect="non-scaling-stroke" >10.6</text>
<text transform="translate(223.0,2190.0) scale(1.0526,1)" font-size="13.5" font-weight="bold" fill="#111111" text-anchor="start" stroke="#111111" stroke-width="0.30" stroke-linejoin="round" vector-effect="non-scaling-stroke" >Users</text>
<text transform="translate(383.0,2190.0) scale(0.9617,1)" font-size="13.5" font-weight="bold" fill="#111111" text-anchor="start" stroke="#111111" stroke-width="0.30" stroke-linejoin="round" vector-effect="non-scaling-stroke" >Developers</text>
<text transform="translate(32.0,1831.5) scale(0.6508,1)" font-size="23.0" font-weight="bold" fill="#111111" text-anchor="start" stroke="#111111" stroke-width="0.90" stroke-linejoin="round" vector-effect="non-scaling-stroke" ># in Billions</text>
<text transform="translate(32.0,1861.0) scale(0.6279,1)" font-size="23.0" font-weight="bold" fill="#111111" text-anchor="start" stroke="#111111" stroke-width="0.90" stroke-linejoin="round" vector-effect="non-scaling-stroke" >of dollars</text>
<rect x="31.0" y="1882.0" width="19.5" height="18.5" fill="#ffffff" />
<text transform="translate(31.0,1917.0) scale(0.9555,1)" font-size="15.0" font-weight="bold" fill="#ffffff" text-anchor="start" stroke="#ffffff" stroke-width="0.40" stroke-linejoin="round" vector-effect="non-scaling-stroke" >Cost of inadequate</text>
<text transform="translate(31.0,1935.5) scale(0.9737,1)" font-size="15.0" font-weight="bold" fill="#ffffff" text-anchor="start" stroke="#ffffff" stroke-width="0.40" stroke-linejoin="round" vector-effect="non-scaling-stroke" >software testing</text>
<text transform="translate(31.0,1954.0) scale(0.9844,1)" font-size="15.0" font-weight="bold" fill="#ffffff" text-anchor="start" stroke="#ffffff" stroke-width="0.40" stroke-linejoin="round" vector-effect="non-scaling-stroke" >infrastructure</text>
<rect x="31.0" y="1987.0" width="19.5" height="19.5" fill="#4f93c8" />
<text transform="translate(31.0,2023.0) scale(0.9565,1)" font-size="15.0" font-weight="bold" fill="#4f93c8" text-anchor="start" stroke="#4f93c8" stroke-width="0.40" stroke-linejoin="round" vector-effect="non-scaling-stroke" >Potential savings</text>
<text transform="translate(31.0,2041.5) scale(0.9702,1)" font-size="15.0" font-weight="bold" fill="#4f93c8" text-anchor="start" stroke="#4f93c8" stroke-width="0.40" stroke-linejoin="round" vector-effect="non-scaling-stroke" >from infrastructure</text>
<text transform="translate(31.0,2060.0) scale(0.9265,1)" font-size="15.0" font-weight="bold" fill="#4f93c8" text-anchor="start" stroke="#4f93c8" stroke-width="0.40" stroke-linejoin="round" vector-effect="non-scaling-stroke" >improvements</text>
<rect x="518.4" y="1728.0" width="454.6" height="547.0" fill="#698386" />
<path d="M529.7 1720 L983.8 1740.5 L963 2286 L506 2265.6 Z" fill="#fff"/>
<text transform="translate(533.7,1770.0) scale(0.5691,1)" font-size="40.0" font-weight="bold" fill="#111111" text-anchor="start" stroke="#111111" stroke-width="1.40" stroke-linejoin="round" vector-effect="non-scaling-stroke" >COST PER INDIVIDUAL DEFECT:</text>
<path d="M550.1 1786.0h7.5v7.2h-7.5zM578.4 1786.0h7.5v7.2h-7.5zM557.1 1792.8h21.6v7.2h-21.6zM550.1 1799.7h7.5v7.2h-7.5zM564.2 1799.7h7.5v7.2h-7.5zM578.4 1799.7h7.5v7.2h-7.5zM550.1 1806.5h35.8v7.2h-35.8zM543.0 1813.3h21.6v7.2h-21.6zM571.3 1813.3h21.6v7.2h-21.6zM543.0 1820.2h7.5v7.2h-7.5zM557.1 1820.2h21.6v7.2h-21.6zM585.4 1820.2h7.5v7.2h-7.5z" fill="#dfe3e3"/>
<path d="M553.6 1888.5h11.0v11.7h-11.0zM596.2 1888.5h11.0v11.7h-11.0zM564.3 1899.8h32.3v11.7h-32.3zM553.6 1911.0h11.0v11.7h-11.0zM574.9 1911.0h11.0v11.7h-11.0zM596.2 1911.0h11.0v11.7h-11.0zM553.6 1922.2h53.6v11.7h-53.6zM543.0 1933.5h32.3v11.7h-32.3zM585.6 1933.5h32.3v11.7h-32.3zM543.0 1944.8h11.0v11.7h-11.0zM564.3 1944.8h32.3v11.7h-32.3zM606.9 1944.8h11.0v11.7h-11.0z" fill="#c6cccc"/>
<path d="M562.0 1996.3h21.4v22.3h-21.4zM645.8 1996.3h21.4v22.3h-21.4zM582.9 2018.2h63.3v22.3h-63.3zM562.0 2040.1h21.4v22.3h-21.4zM603.9 2040.1h21.4v22.3h-21.4zM645.8 2040.1h21.4v22.3h-21.4zM562.0 2061.9h105.2v22.3h-105.2zM541.0 2083.8h63.3v22.3h-63.3zM624.8 2083.8h63.3v22.3h-63.3zM541.0 2105.7h21.4v22.3h-21.4zM582.9 2105.7h63.3v22.3h-63.3zM666.7 2105.7h21.4v22.3h-21.4z" fill="#a7b1b2"/>
<path d="M759.0 1785.0h24.4v25.7h-24.4zM855.0 1785.0h24.4v25.7h-24.4zM783.0 1810.3h72.4v25.7h-72.4zM759.0 1835.7h24.4v25.7h-24.4zM807.0 1835.7h24.4v25.7h-24.4zM855.0 1835.7h24.4v25.7h-24.4zM759.0 1861.0h120.4v25.7h-120.4zM735.0 1886.3h72.4v25.7h-72.4zM831.0 1886.3h72.4v25.7h-72.4zM735.0 1911.7h24.4v25.7h-24.4zM783.0 1911.7h72.4v25.7h-72.4zM879.0 1911.7h24.4v25.7h-24.4z" fill="#8b999b"/>
<path d="M744.7 2026.0h33.6v35.4h-33.6zM877.6 2026.0h33.6v35.4h-33.6zM777.9 2061.0h100.0v35.4h-100.0zM744.7 2096.0h33.6v35.4h-33.6zM811.1 2096.0h33.6v35.4h-33.6zM877.6 2096.0h33.6v35.4h-33.6zM744.7 2131.0h166.5v35.4h-166.5zM711.5 2166.0h100.0v35.4h-100.0zM844.4 2166.0h100.0v35.4h-100.0zM711.5 2201.0h33.6v35.4h-33.6zM777.9 2201.0h100.0v35.4h-100.0zM910.8 2201.0h33.6v35.4h-33.6z" fill="#435659"/>
<text transform="translate(599.0,1830.0) scale(0.7881,1)" font-size="38.5" font-weight="bold" fill="#4f93c8" text-anchor="start" stroke="#4f93c8" stroke-width="1.50" stroke-linejoin="round" vector-effect="non-scaling-stroke" >$140</text>
<text transform="translate(543.0,1849.0) scale(0.9510,1)" font-size="20.5" font-weight="bold" fill="#111111" text-anchor="start" stroke="#111111" stroke-width="0.60" stroke-linejoin="round" vector-effect="non-scaling-stroke" >Requirements</text>
<text transform="translate(617.6,1931.6) scale(0.8068,1)" font-size="39.0" font-weight="bold" fill="#4f93c8" text-anchor="start" stroke="#4f93c8" stroke-width="1.50" stroke-linejoin="round" vector-effect="non-scaling-stroke" >$450</text>
<text transform="translate(626.0,1953.5) scale(0.8998,1)" font-size="20.5" font-weight="bold" fill="#111111" text-anchor="start" stroke="#111111" stroke-width="0.60" stroke-linejoin="round" vector-effect="non-scaling-stroke" >Design</text>
<text transform="translate(541.0,2159.0) scale(0.8231,1)" font-size="38.5" font-weight="bold" fill="#4f93c8" text-anchor="start" stroke="#4f93c8" stroke-width="1.50" stroke-linejoin="round" vector-effect="non-scaling-stroke" >$975</text>
<text transform="translate(620.0,2157.0) scale(0.9067,1)" font-size="20.5" font-weight="bold" fill="#111111" text-anchor="start" stroke="#111111" stroke-width="0.60" stroke-linejoin="round" vector-effect="non-scaling-stroke" >Coding</text>
<text transform="translate(733.0,1973.0) scale(0.7275,1)" font-size="40.0" font-weight="bold" fill="#4f93c8" text-anchor="start" stroke="#4f93c8" stroke-width="1.50" stroke-linejoin="round" vector-effect="non-scaling-stroke" >$7,100</text>
<text transform="translate(825.5,1970.0) scale(0.9458,1)" font-size="20.5" font-weight="bold" fill="#111111" text-anchor="start" stroke="#111111" stroke-width="0.60" stroke-linejoin="round" vector-effect="non-scaling-stroke" >Testing</text>
<text transform="translate(715.0,2271.0) scale(0.7435,1)" font-size="40.0" font-weight="bold" fill="#4f93c8" text-anchor="start" stroke="#4f93c8" stroke-width="1.50" stroke-linejoin="round" vector-effect="non-scaling-stroke" >$14,100</text>
<text transform="translate(826.0,2267.0) scale(0.9584,1)" font-size="20.5" font-weight="normal" fill="#111111" text-anchor="start" stroke="#111111" stroke-width="0.70" stroke-linejoin="round" vector-effect="non-scaling-stroke" >Maintenance</text>
<text transform="translate(30.0,2369.0) scale(0.5672,1)" font-size="41.5" font-weight="bold" fill="#111111" text-anchor="start" stroke="#111111" stroke-width="1.40" stroke-linejoin="round" vector-effect="non-scaling-stroke" >MEDIUM RISK DEFECTS IN THE ANDROID KERNEL:</text>
<path d="M125 2424 L95.5 2381 M245.5 2424 L269.5 2381" stroke="#4f93c8" stroke-width="8" stroke-linecap="round" fill="none"/>
<path d="M39.5 2534.5 A143.5 131 0 0 1 326.5 2534.5 Z" fill="#4f93c8"/>
<circle cx="117.0" cy="2469.0" r="12.0" fill="#eef4f6" />
<circle cx="250.5" cy="2469.0" r="12.0" fill="#eef4f6" />
<path d="M39.5 2545 H326.5 V2763 A25 25 0 0 1 301.5 2788 H64.5 A25 25 0 0 1 39.5 2763 Z" fill="#4f93c8"/>
<text transform="translate(298.5,2570.0) scale(0.9094,1)" font-size="15.5" font-weight="bold" fill="#ffffff" text-anchor="end" stroke="#ffffff" stroke-width="0.35" stroke-linejoin="round" vector-effect="non-scaling-stroke" >Control flow issues</text>
<rect x="335" y="2557.0" width="349.0" height="19.5" rx="7.5" fill="#698386"/>
<text transform="translate(687.0,2577.0) scale(0.9656,1)" font-size="27.0" font-weight="bold" fill="#4f93c8" text-anchor="start" stroke="#4f93c8" stroke-width="1.20" stroke-linejoin="round" vector-effect="non-scaling-stroke" >57</text>
<text transform="translate(298.5,2608.0) scale(0.9163,1)" font-size="15.5" font-weight="bold" fill="#ffffff" text-anchor="end" stroke="#ffffff" stroke-width="0.35" stroke-linejoin="round" vector-effect="non-scaling-stroke" >Error handling issues</text>
<rect x="335" y="2595.0" width="217.5" height="19.5" rx="7.5" fill="#698386"/>
<text transform="translate(555.5,2615.0) scale(0.9656,1)" font-size="27.0" font-weight="bold" fill="#4f93c8" text-anchor="start" stroke="#4f93c8" stroke-width="1.20" stroke-linejoin="round" vector-effect="non-scaling-stroke" >36</text>
<text transform="translate(298.5,2645.5) scale(0.9247,1)" font-size="15.5" font-weight="bold" fill="#ffffff" text-anchor="end" stroke="#ffffff" stroke-width="0.35" stroke-linejoin="round" vector-effect="non-scaling-stroke" >Incorrect expression</text>
<rect x="335" y="2632.5" width="99.0" height="19.5" rx="7.5" fill="#698386"/>
<text transform="translate(437.0,2652.5) scale(0.8324,1)" font-size="27.0" font-weight="bold" fill="#4f93c8" text-anchor="start" stroke="#4f93c8" stroke-width="1.20" stroke-linejoin="round" vector-effect="non-scaling-stroke" >17</text>
<text transform="translate(298.5,2683.0) scale(0.9300,1)" font-size="15.5" font-weight="bold" fill="#ffffff" text-anchor="end" stroke="#ffffff" stroke-width="0.35" stroke-linejoin="round" vector-effect="non-scaling-stroke" >Insecure data handling</text>
<rect x="335" y="2670.0" width="323.5" height="19.5" rx="7.5" fill="#698386"/>
<text transform="translate(661.5,2690.0) scale(0.9656,1)" font-size="27.0" font-weight="bold" fill="#4f93c8" text-anchor="start" stroke="#4f93c8" stroke-width="1.20" stroke-linejoin="round" vector-effect="non-scaling-stroke" >53</text>
<text transform="translate(298.5,2720.0) scale(0.9242,1)" font-size="15.5" font-weight="bold" fill="#ffffff" text-anchor="end" stroke="#ffffff" stroke-width="0.35" stroke-linejoin="round" vector-effect="non-scaling-stroke" >Integer handling issues</text>
<rect x="335" y="2707.0" width="138.5" height="19.5" rx="7.5" fill="#698386"/>
<text transform="translate(476.5,2727.0) scale(0.9656,1)" font-size="27.0" font-weight="bold" fill="#4f93c8" text-anchor="start" stroke="#4f93c8" stroke-width="1.20" stroke-linejoin="round" vector-effect="non-scaling-stroke" >23</text>
<text transform="translate(298.5,2757.5) scale(0.9362,1)" font-size="15.5" font-weight="bold" fill="#ffffff" text-anchor="end" stroke="#ffffff" stroke-width="0.35" stroke-linejoin="round" vector-effect="non-scaling-stroke" >Null pointer dereferences</text>
<rect x="335" y="2744.5" width="508.5" height="19.5" rx="7.5" fill="#698386"/>
<text transform="translate(846.5,2764.5) scale(0.9656,1)" font-size="27.0" font-weight="bold" fill="#4f93c8" text-anchor="start" stroke="#4f93c8" stroke-width="1.20" stroke-linejoin="round" vector-effect="non-scaling-stroke" >83</text>
<path d="M379.5 2413 H836 V2483 H398 L328 2530 L379.5 2452 Z" fill="#fff" stroke="#a9d0dc" stroke-width="1.5"/>
<text transform="translate(386.0,2444.0) scale(0.6930,1)" font-size="25.0" font-weight="normal" fill="#4f93c8" text-anchor="start" stroke="#4f93c8" stroke-width="1.00" stroke-linejoin="round" vector-effect="non-scaling-stroke" >Issues that cause incorrect results, concurrency problems</text>
<text transform="translate(386.0,2467.0) scale(0.6705,1)" font-size="25.0" font-weight="normal" fill="#4f93c8" text-anchor="start" stroke="#4f93c8" stroke-width="1.00" stroke-linejoin="round" vector-effect="non-scaling-stroke" >and system freezes.</text>
<rect x="0.0" y="2868.5" width="1000.0" height="68.5" fill="#698386" />
<text transform="translate(30.0,2898.0) scale(0.4912,1)" font-size="40.5" font-weight="bold" fill="#111111" text-anchor="start" stroke="#111111" stroke-width="1.40" stroke-linejoin="round" vector-effect="non-scaling-stroke" >WHERE ARE DEFECTS LOCATED...</text>
<text transform="translate(301.0,2937.0) scale(0.4814,1)" font-size="40.0" font-weight="bold" fill="#ffffff" text-anchor="start" stroke="#ffffff" stroke-width="1.20" stroke-linejoin="round" vector-effect="non-scaling-stroke" >&amp; HOW MUCH DO THEY COST TO REPAIR?</text>
<rect x="0.0" y="2981.0" width="300.0" height="55.0" fill="#698386" />
<rect x="0.0" y="3093.5" width="370.0" height="55.0" fill="#698386" />
<rect x="0.0" y="3211.5" width="462.0" height="55.0" fill="#698386" />
<rect x="0.0" y="3326.0" width="570.0" height="55.0" fill="#698386" />
<rect x="0.0" y="3440.0" width="858.0" height="55.0" fill="#698386" />
<g transform="translate(388.0,3017.0) rotate(13.0)">
<rect x="-56.5" y="-28.0" width="113.0" height="56.0" fill="#9dbcbd" />
<rect x="-49.5" y="-20.0" width="99.0" height="40.0" fill="#7fa2a4" />
<ellipse cx="0" cy="0" rx="25" ry="21" fill="#b4d0d2"/>
<text transform="translate(0.0,15.0) rotate(-5.0) scale(1.0000,1)" font-size="44.0" font-weight="normal" fill="#1a1a1a" text-anchor="middle" stroke="#1a1a1a" stroke-width="1.00" stroke-linejoin="round" vector-effect="non-scaling-stroke" >$</text>
</g>
<g transform="translate(423.0,3124.0) rotate(13.0)">
<rect x="-56.5" y="-28.0" width="113.0" height="56.0" fill="#9dbcbd" />
<rect x="-49.5" y="-20.0" width="99.0" height="40.0" fill="#7fa2a4" />
<ellipse cx="0" cy="0" rx="25" ry="21" fill="#b4d0d2"/>
<text transform="translate(1.0,12.0) rotate(-9.0) scale(0.7400,1)" font-size="36.0" font-weight="normal" font-style="italic" fill="#2a2020" text-anchor="middle" stroke="#2a2020" stroke-width="0.80" stroke-linejoin="round" vector-effect="non-scaling-stroke" >5x</text>
</g>
<g transform="translate(517.0,3241.0) rotate(13.0)">
<rect x="-56.5" y="-28.0" width="113.0" height="56.0" fill="#9dbcbd" />
<rect x="-49.5" y="-20.0" width="99.0" height="40.0" fill="#7fa2a4" />
<ellipse cx="0" cy="0" rx="25" ry="21" fill="#b4d0d2"/>
<text transform="translate(1.0,12.0) rotate(-9.0) scale(0.7400,1)" font-size="36.0" font-weight="normal" font-style="italic" fill="#2a2020" text-anchor="middle" stroke="#2a2020" stroke-width="0.80" stroke-linejoin="round" vector-effect="non-scaling-stroke" >10x</text>
</g>
<g transform="translate(618.0,3356.5) rotate(13.0)">
<rect x="-56.5" y="-28.0" width="113.0" height="56.0" fill="#9dbcbd" />
<rect x="-49.5" y="-20.0" width="99.0" height="40.0" fill="#7fa2a4" />
<ellipse cx="0" cy="0" rx="25" ry="21" fill="#b4d0d2"/>
<text transform="translate(1.0,12.0) rotate(-9.0) scale(0.7400,1)" font-size="36.0" font-weight="normal" font-style="italic" fill="#2a2020" text-anchor="middle" stroke="#2a2020" stroke-width="0.80" stroke-linejoin="round" vector-effect="non-scaling-stroke" >15x</text>
</g>
<g transform="translate(906.5,3467.5) rotate(13.0)">
<rect x="-56.5" y="-28.0" width="113.0" height="56.0" fill="#9dbcbd" />
<rect x="-49.5" y="-20.0" width="99.0" height="40.0" fill="#7fa2a4" />
<ellipse cx="0" cy="0" rx="25" ry="21" fill="#b4d0d2"/>
<text transform="translate(1.0,12.0) rotate(-9.0) scale(0.7400,1)" font-size="36.0" font-weight="normal" font-style="italic" fill="#2a2020" text-anchor="middle" stroke="#2a2020" stroke-width="0.80" stroke-linejoin="round" vector-effect="non-scaling-stroke" >30x</text>
</g>
<g transform="translate(874.5,3035.0) rotate(13.0)">
<rect x="-56.5" y="-28.0" width="113.0" height="56.0" fill="#9dbcbd" />
<rect x="-49.5" y="-20.0" width="99.0" height="40.0" fill="#7fa2a4" />
<ellipse cx="0" cy="0" rx="25" ry="21" fill="#b4d0d2"/>
<text transform="translate(0.0,15.0) rotate(-5.0) scale(1.0000,1)" font-size="44.0" font-weight="normal" fill="#1a1a1a" text-anchor="middle" stroke="#1a1a1a" stroke-width="1.00" stroke-linejoin="round" vector-effect="non-scaling-stroke" >$</text>
</g>
<circle cx="260.3" cy="3009.0" r="53.0" fill="#81a4a6" />
<path d="M260.3 3009.0 L260.3 2956.0 A53.0 53.0 0 0 1 303.2 2977.8 Z" fill="#4f93c8" />
<circle cx="260.3" cy="3009.0" r="40.5" fill="#ffffff" />
<text transform="translate(263.5,3020.5) scale(0.6264,1)" font-size="33.5" font-weight="bold" fill="#4a8cc2" text-anchor="middle" stroke="#4a8cc2" stroke-width="1.00" stroke-linejoin="round" vector-effect="non-scaling-stroke" >15%</text>
<text transform="translate(198.5,3001.5) scale(0.7867,1)" font-size="16.5" font-weight="normal" fill="#ffffff" text-anchor="end" stroke="#ffffff" stroke-width="0.40" stroke-linejoin="round" vector-effect="non-scaling-stroke" >Analysis/</text>
<text transform="translate(198.5,3023.0) scale(0.8049,1)" font-size="16.5" font-weight="normal" fill="#ffffff" text-anchor="end" stroke="#ffffff" stroke-width="0.40" stroke-linejoin="round" vector-effect="non-scaling-stroke" >Design</text>
<circle cx="260.3" cy="3121.5" r="53.0" fill="#81a4a6" />
<path d="M260.3 3121.5 L260.3 3068.5 A53.0 53.0 0 0 1 310.7 3105.1 Z" fill="#4f93c8" />
<circle cx="260.3" cy="3121.5" r="40.5" fill="#ffffff" />
<text transform="translate(263.5,3133.0) scale(0.6264,1)" font-size="33.5" font-weight="bold" fill="#4a8cc2" text-anchor="middle" stroke="#4a8cc2" stroke-width="1.00" stroke-linejoin="round" vector-effect="non-scaling-stroke" >20%</text>
<text transform="translate(198.5,3114.0) scale(0.7828,1)" font-size="16.5" font-weight="normal" fill="#ffffff" text-anchor="end" stroke="#ffffff" stroke-width="0.40" stroke-linejoin="round" vector-effect="non-scaling-stroke" >Coding/</text>
<text transform="translate(198.5,3135.5) scale(0.8439,1)" font-size="16.5" font-weight="normal" fill="#ffffff" text-anchor="end" stroke="#ffffff" stroke-width="0.40" stroke-linejoin="round" vector-effect="non-scaling-stroke" >unit test</text>
<circle cx="260.3" cy="3239.5" r="53.0" fill="#81a4a6" />
<path d="M260.3 3239.5 L260.3 3186.5 A53.0 53.0 0 0 1 291.5 3282.4 Z" fill="#4f93c8" />
<circle cx="260.3" cy="3239.5" r="40.5" fill="#ffffff" />
<text transform="translate(263.5,3251.0) scale(0.6264,1)" font-size="33.5" font-weight="bold" fill="#4a8cc2" text-anchor="middle" stroke="#4a8cc2" stroke-width="1.00" stroke-linejoin="round" vector-effect="non-scaling-stroke" >40%</text>
<text transform="translate(198.5,3232.0) scale(0.7946,1)" font-size="16.5" font-weight="normal" fill="#ffffff" text-anchor="end" stroke="#ffffff" stroke-width="0.40" stroke-linejoin="round" vector-effect="non-scaling-stroke" >Integration/RAISE</text>
<text transform="translate(198.5,3253.5) scale(0.8004,1)" font-size="16.5" font-weight="normal" fill="#ffffff" text-anchor="end" stroke="#ffffff" stroke-width="0.40" stroke-linejoin="round" vector-effect="non-scaling-stroke" >system test</text>
<circle cx="260.3" cy="3354.0" r="53.0" fill="#81a4a6" />
<path d="M260.3 3354.0 L260.3 3301.0 A53.0 53.0 0 0 1 303.2 3322.8 Z" fill="#4f93c8" />
<circle cx="260.3" cy="3354.0" r="40.5" fill="#ffffff" />
<text transform="translate(263.5,3365.5) scale(0.6264,1)" font-size="33.5" font-weight="bold" fill="#4a8cc2" text-anchor="middle" stroke="#4a8cc2" stroke-width="1.00" stroke-linejoin="round" vector-effect="non-scaling-stroke" >15%</text>
<text transform="translate(198.5,3346.5) scale(0.7859,1)" font-size="16.5" font-weight="normal" fill="#ffffff" text-anchor="end" stroke="#ffffff" stroke-width="0.40" stroke-linejoin="round" vector-effect="non-scaling-stroke" >Early Feedback</text>
<text transform="translate(198.5,3368.0) scale(0.8081,1)" font-size="16.5" font-weight="normal" fill="#ffffff" text-anchor="end" stroke="#ffffff" stroke-width="0.40" stroke-linejoin="round" vector-effect="non-scaling-stroke" >Beta Testing</text>
<circle cx="260.3" cy="3468.0" r="53.0" fill="#81a4a6" />
<path d="M260.3 3468.0 L260.3 3415.0 A53.0 53.0 0 0 1 291.5 3425.1 Z" fill="#4f93c8" />
<circle cx="260.3" cy="3468.0" r="40.5" fill="#ffffff" />
<text transform="translate(263.5,3479.5) scale(0.6264,1)" font-size="33.5" font-weight="bold" fill="#4a8cc2" text-anchor="middle" stroke="#4a8cc2" stroke-width="1.00" stroke-linejoin="round" vector-effect="non-scaling-stroke" >10%</text>
<text transform="translate(198.5,3460.5) scale(0.8079,1)" font-size="16.5" font-weight="normal" fill="#ffffff" text-anchor="end" stroke="#ffffff" stroke-width="0.40" stroke-linejoin="round" vector-effect="non-scaling-stroke" >Post Product</text>
<text transform="translate(198.5,3482.0) scale(0.7835,1)" font-size="16.5" font-weight="normal" fill="#ffffff" text-anchor="end" stroke="#ffffff" stroke-width="0.40" stroke-linejoin="round" vector-effect="non-scaling-stroke" >release</text>
<text transform="translate(973.0,3070.0) scale(0.9139,1)" font-size="16.0" font-weight="normal" fill="#111111" text-anchor="end" stroke="#111111" stroke-width="0.30" stroke-linejoin="round" vector-effect="non-scaling-stroke" >= one</text>
<text transform="translate(973.0,3088.0) scale(0.9967,1)" font-size="16.0" font-weight="normal" fill="#111111" text-anchor="end" stroke="#111111" stroke-width="0.30" stroke-linejoin="round" vector-effect="non-scaling-stroke" >normalized</text>
<text transform="translate(973.0,3106.5) scale(1.0339,1)" font-size="16.0" font-weight="normal" fill="#111111" text-anchor="end" stroke="#111111" stroke-width="0.30" stroke-linejoin="round" vector-effect="non-scaling-stroke" >unit of cost</text>
<clipPath id="h3558"><rect x="29.6" y="3558.0" width="941.4" height="35.5"/></clipPath>
<path d="M-42.6 3593.5 l26.5 -35.5 h21.5 l-26.5 35.5 zM-5.8 3593.5 l26.5 -35.5 h21.5 l-26.5 35.5 zM31.1 3593.5 l26.5 -35.5 h21.5 l-26.5 35.5 zM68.0 3593.5 l26.5 -35.5 h21.5 l-26.5 35.5 zM104.8 3593.5 l26.5 -35.5 h21.5 l-26.5 35.5 zM141.7 3593.5 l26.5 -35.5 h21.5 l-26.5 35.5 zM178.6 3593.5 l26.5 -35.5 h21.5 l-26.5 35.5 zM215.5 3593.5 l26.5 -35.5 h21.5 l-26.5 35.5 zM252.3 3593.5 l26.5 -35.5 h21.5 l-26.5 35.5 zM289.2 3593.5 l26.5 -35.5 h21.5 l-26.5 35.5 zM326.1 3593.5 l26.5 -35.5 h21.5 l-26.5 35.5 zM362.9 3593.5 l26.5 -35.5 h21.5 l-26.5 35.5 zM399.8 3593.5 l26.5 -35.5 h21.5 l-26.5 35.5 zM436.7 3593.5 l26.5 -35.5 h21.5 l-26.5 35.5 zM473.5 3593.5 l26.5 -35.5 h21.5 l-26.5 35.5 zM510.4 3593.5 l26.5 -35.5 h21.5 l-26.5 35.5 zM547.3 3593.5 l26.5 -35.5 h21.5 l-26.5 35.5 zM584.1 3593.5 l26.5 -35.5 h21.5 l-26.5 35.5 zM621.0 3593.5 l26.5 -35.5 h21.5 l-26.5 35.5 zM657.9 3593.5 l26.5 -35.5 h21.5 l-26.5 35.5 zM694.8 3593.5 l26.5 -35.5 h21.5 l-26.5 35.5 zM731.6 3593.5 l26.5 -35.5 h21.5 l-26.5 35.5 zM768.5 3593.5 l26.5 -35.5 h21.5 l-26.5 35.5 zM805.4 3593.5 l26.5 -35.5 h21.5 l-26.5 35.5 zM842.2 3593.5 l26.5 -35.5 h21.5 l-26.5 35.5 zM879.1 3593.5 l26.5 -35.5 h21.5 l-26.5 35.5 zM916.0 3593.5 l26.5 -35.5 h21.5 l-26.5 35.5 zM952.9 3593.5 l26.5 -35.5 h21.5 l-26.5 35.5 zM989.7 3593.5 l26.5 -35.5 h21.5 l-26.5 35.5 z" fill="#f2f4f4" clip-path="url(#h3558)"/>
<text transform="translate(30.0,3646.0) scale(0.5533,1)" font-size="43.0" font-weight="bold" fill="#111111" text-anchor="start" stroke="#111111" stroke-width="1.20" stroke-linejoin="round" vector-effect="non-scaling-stroke" >WHAT INDUSTRIES ARE AT RISK FROM</text>
<text transform="translate(30.0,3684.0) scale(0.5243,1)" font-size="43.0" font-weight="bold" fill="#111111" text-anchor="start" stroke="#111111" stroke-width="1.20" stroke-linejoin="round" vector-effect="non-scaling-stroke" >POOR QUALITY SOFTWARE?</text>
<rect x="29.5" y="3700.0" width="305.5" height="69.5" fill="#435659" />
<rect x="335.0" y="3700.0" width="321.0" height="69.5" fill="#4f93c8" />
<rect x="656.0" y="3700.0" width="314.5" height="69.5" fill="#81a4a6" />
<rect x="29.5" y="3769.0" width="941.0" height="315.3" fill="#ffffff" />
<g fill="none" stroke="#fff" stroke-width="4.8" stroke-linejoin="miter"><path d="M71.0 3710.0 l30.5 52 h-61 z"/></g>
<path d="M67.8 3724.5 h6.4 l-1 20 h-4.4 z" fill="#fff"/>
<rect x="68.0" y="3748.0" width="6.0" height="5.6" fill="#fff" />
<g fill="none" stroke="#fff" stroke-width="4.8" stroke-linejoin="miter"><path d="M378.5 3710.0 l30.5 52 h-61 z"/></g>
<path d="M375.3 3724.5 h6.4 l-1 20 h-4.4 z" fill="#fff"/>
<rect x="375.5" y="3748.0" width="6.0" height="5.6" fill="#fff" />
<g fill="none" stroke="#fff" stroke-width="4.8" stroke-linejoin="miter"><path d="M696.0 3710.0 l30.5 52 h-61 z"/></g>
<path d="M692.8 3724.5 h6.4 l-1 20 h-4.4 z" fill="#fff"/>
<rect x="693.0" y="3748.0" width="6.0" height="5.6" fill="#fff" />
<text transform="translate(288.5,3729.0) scale(0.6645,1)" font-size="22.0" font-weight="bold" fill="#ffffff" text-anchor="middle" stroke="#ffffff" stroke-width="0.90" stroke-linejoin="round" vector-effect="non-scaling-stroke" >Safety &amp;</text>
<text transform="translate(289.5,3759.0) scale(0.6508,1)" font-size="22.0" font-weight="bold" fill="#ffffff" text-anchor="middle" stroke="#ffffff" stroke-width="0.90" stroke-linejoin="round" vector-effect="non-scaling-stroke" >Security</text>
<text transform="translate(640.0,3734.0) scale(0.5857,1)" font-size="22.0" font-weight="bold" fill="#ffffff" text-anchor="end" stroke="#ffffff" stroke-width="0.90" stroke-linejoin="round" vector-effect="non-scaling-stroke" >Economy</text>
<text transform="translate(923.6,3729.0) scale(0.5998,1)" font-size="22.0" font-weight="bold" fill="#ffffff" text-anchor="middle" stroke="#ffffff" stroke-width="0.90" stroke-linejoin="round" vector-effect="non-scaling-stroke" >Records &amp;</text>
<text transform="translate(923.5,3759.0) scale(0.6076,1)" font-size="22.0" font-weight="bold" fill="#ffffff" text-anchor="middle" stroke="#ffffff" stroke-width="0.90" stroke-linejoin="round" vector-effect="non-scaling-stroke" >Services</text>
<rect x="119.0" y="3803.5" width="28.5" height="79.0" fill="#435659" />
<rect x="92.0" y="3829.0" width="82.0" height="28.5" fill="#435659" />
<text transform="translate(60.0,3910.0) scale(1.0114,1)" font-size="27.5" font-weight="normal" fill="#444d4f" text-anchor="start" >Healthcare</text>
<path d="M260 3886 V3865 Q260.5 3861 264 3861 H268 Q270 3861 270 3863.5 H274 V3858 H296 V3853.5 H305 V3842 H306.5 Q306.5 3824 318 3819.5 V3816 H320.5 L322.7 3808 L324.9 3816 H327.4 V3819.5 Q339 3824 339 3842 H340.5 V3853.5 H349.5 V3858 H371.5 V3863.5 H376 Q376 3861 378 3861 H382.5 Q386 3861 386.7 3865 V3886 Z" fill="#4f93c8"/>
<text transform="translate(243.0,3916.0) scale(1.0045,1)" font-size="27.5" font-weight="normal" fill="#4f93c8" text-anchor="start" >Government</text>
<path d="M618.5 3833.8 L605.0 3830.4 L574.7 3837.1 L564.6 3837.1 L525.9 3821.0 L520.1 3823.7 L551.1 3845.6 L524.2 3852.3 L505.7 3852.3 L490.5 3847.2 L490.5 3855.7 L497.2 3862.4 L502.3 3879.2 L507.3 3878.2 L512.4 3865.8 L534.3 3859.0 L559.5 3854.0 L566.3 3897.7 L572.0 3899.4 L588.1 3862.4 L589.8 3852.3 L584.8 3845.6 L608.4 3840.5 L618.5 3836.5 Z" fill="#435659" stroke="#435659" stroke-width="1.5" stroke-linejoin="round"/>
<ellipse cx="550.4" cy="3826.4" rx="5.5" ry="3" fill="#435659" transform="rotate(-12 550.4 3826.4)"/>
<ellipse cx="568.6" cy="3833.8" rx="5.5" ry="3" fill="#435659" transform="rotate(-12 568.6 3833.8)"/>
<ellipse cx="588.5" cy="3862.0" rx="5.5" ry="3" fill="#435659" transform="rotate(-12 588.5 3862.0)"/>
<ellipse cx="585.8" cy="3877.5" rx="5.5" ry="3" fill="#435659" transform="rotate(-12 585.8 3877.5)"/>
<text transform="translate(463.0,3904.0) scale(0.9981,1)" font-size="27.5" font-weight="normal" fill="#444d4f" text-anchor="start" >Airlines</text>
<path d="M743.3 3891 V3848.4 L765.9 3857.5 V3846.4 L797.8 3857.5 V3845.7 L828 3857.5 H832.2 V3830.6 H840 V3858 L846.7 3862 V3891 Z" fill="#4f93c8"/>
<rect x="750.7" y="3870" width="21" height="4.6" rx="2" fill="#fff"/><rect x="750.7" y="3876" width="21" height="4.6" rx="2" fill="#fff"/>
<rect x="777.6" y="3870" width="21" height="4.6" rx="2" fill="#fff"/><rect x="777.6" y="3876" width="21" height="4.6" rx="2" fill="#fff"/>
<rect x="805.3" y="3870" width="21" height="4.6" rx="2" fill="#fff"/><rect x="805.3" y="3876" width="21" height="4.6" rx="2" fill="#fff"/>
<circle cx="836.0" cy="3817.0" r="7.5" fill="#4f93c8" />
<circle cx="843.0" cy="3806.0" r="10.0" fill="#4f93c8" />
<circle cx="855.0" cy="3797.0" r="10.0" fill="#4f93c8" />
<circle cx="860.0" cy="3806.0" r="8.5" fill="#4f93c8" />
<circle cx="851.0" cy="3812.0" r="9.0" fill="#4f93c8" />
<text transform="translate(693.5,3918.0) scale(1.0042,1)" font-size="27.5" font-weight="normal" fill="#4f93c8" text-anchor="start" >Manufacturing</text>
<text transform="translate(43.5,3975.5) scale(0.9915,1)" font-size="27.5" font-weight="normal" fill="#4f93c8" text-anchor="start" >Finance</text>
<path d="M81.4 4013.0 L145.8 3973.8 L177.3 3982.7 L179.1 4015.5 L167.2 4031.2 L144.5 4059.7 L85.2 4037.0 Z" fill="#4f93c8" />
<path d="M115.5 3996.6 L129.3 3985.7 L158.4 3991.5 L167.2 4031.9 L153.8 4040.0 L147.0 4002.9 Z" fill="#fff" />
<ellipse cx="101.6" cy="4053.9" rx="9.6" ry="4.3" fill="#4f93c8"/>
<ellipse cx="167.2" cy="4066.0" rx="8.8" ry="3.8" fill="#4f93c8"/>
<ellipse cx="189.2" cy="4057.9" rx="8.8" ry="3.5" fill="#4f93c8"/>
<rect x="169.7" y="4037.0" width="17.7" height="22.7" rx="5" fill="#4f93c8"/>
<rect x="190.7" y="3986.5" width="15.7" height="56.1" rx="6.5" fill="#4f93c8"/>
<g transform="translate(323,3996.7) rotate(-30)">
<rect x="-50" y="-25" width="100" height="50" rx="9" fill="#7fa2a5"/>
<rect x="1" y="-19" width="40" height="38" rx="4" fill="#fff"/>
<rect x="47" y="9.5" width="22" height="5.4" rx="2.7" fill="#7fa2a5"/>
<ellipse cx="-40.0" cy="-16.0" rx="3.8" ry="5" fill="#fff"/>
<ellipse cx="-40.0" cy="-1.0" rx="3.8" ry="5" fill="#fff"/>
<ellipse cx="-40.0" cy="14.0" rx="3.8" ry="5" fill="#fff"/>
<ellipse cx="-29.7" cy="-16.0" rx="3.8" ry="5" fill="#fff"/>
<ellipse cx="-29.7" cy="-1.0" rx="3.8" ry="5" fill="#fff"/>
<ellipse cx="-29.7" cy="14.0" rx="3.8" ry="5" fill="#fff"/>
<ellipse cx="-19.4" cy="-16.0" rx="3.8" ry="5" fill="#fff"/>
<ellipse cx="-19.4" cy="-1.0" rx="3.8" ry="5" fill="#fff"/>
<ellipse cx="-19.4" cy="14.0" rx="3.8" ry="5" fill="#fff"/>
<ellipse cx="-9.1" cy="-16.0" rx="3.8" ry="5" fill="#fff"/>
<ellipse cx="-9.1" cy="-1.0" rx="3.8" ry="5" fill="#fff"/>
<ellipse cx="-9.1" cy="14.0" rx="3.8" ry="5" fill="#fff"/>
</g>
<text transform="translate(226.5,4070.0) scale(0.9896,1)" font-size="27.5" font-weight="normal" fill="#7fa2a5" text-anchor="start" >Telecommuncations</text>
<text transform="translate(495.0,3982.0) scale(1.0042,1)" font-size="27.5" font-weight="normal" fill="#444d4f" text-anchor="start" >Utilities</text>
<path d="M554.9 3999.2 L508 3990.9 L498 4007.1 L526.7 4045.2 Z" fill="#435659"/>
<circle cx="540.8" cy="4022.2" r="28.3" fill="#435659" />
<rect x="-7" y="-10" width="13" height="20" rx="3.5" fill="#fff" stroke="#435659" stroke-width="1.8" transform="translate(497.5,3995.5) rotate(31.5)"/>
<circle cx="539.5" cy="4035.6" r="8.6" fill="#fff" />
<ellipse cx="574.5" cy="4002.5" rx="4.5" ry="1.7" fill="#435659" transform="rotate(-30.3 574.5 4002.5)"/>
<ellipse cx="580.0" cy="4022.7" rx="4.5" ry="1.7" fill="#435659" transform="rotate(0.7 580.0 4022.7)"/>
<ellipse cx="575.3" cy="4043.7" rx="4.5" ry="1.7" fill="#435659" transform="rotate(31.9 575.3 4043.7)"/>
<ellipse cx="555.6" cy="4061.8" rx="4.5" ry="1.7" fill="#435659" transform="rotate(69.5 555.6 4061.8)"/>
<ellipse cx="523.8" cy="4058.5" rx="4.5" ry="1.7" fill="#435659" transform="rotate(115.1 523.8 4058.5)"/>
<text transform="translate(640.0,3966.0) scale(0.9936,1)" font-size="27.5" font-weight="normal" fill="#7fa2a5" text-anchor="start" >Insurance</text>
<g fill="none" stroke="#7fa2a5" stroke-width="4" stroke-linecap="round" stroke-linejoin="round">
<path d="M638 4013 Q646 3980 698 3976 Q751 3980 759 4013"/>
<path d="M638 4013 Q653 4003 667 4015.5 Q680 4000 697 4006 Q714 4000 727 4015.5 Q742 4003 759 4013"/>
<path d="M645 3999 Q662 3990 678 3998 Q690 3990 698 3992 Q707 3990 719 3998 Q736 3990 752 3999" stroke-width="3"/>
<path d="M698 3971 V4030" stroke-width="3.6"/>
</g>
<path d="M660.5 4048 L673.9 4040.5 V4026.6 H680.6 V4036.7 L698 4026.6 L737 4048 H727.7 V4071 H668 V4048 Z" fill="#7fa2a5"/>
<rect x="672.5" y="4052.0" width="12.0" height="8.5" fill="#fff" />
<rect x="711.6" y="4052.0" width="12.0" height="8.5" fill="#fff" />
<rect x="694.0" y="4059.0" width="9.5" height="12.5" fill="#fff" />
<path d="M872.9 3937.1 L881.0 3939.8 L883.7 3947.9 L882.4 3954.6 L890.4 3957.3 L899.9 3968.1 L904.4 3980.2 L902.6 3992.3 L895.8 4001.8 L891.8 4005.8 L898.5 4012.5 L911.4 4015.2 L910.6 4027.4 L907.9 4036.8 L914.1 4039.5 L913.3 4043.5 L893.1 4045.7 L860.8 4044.9 L836.6 4047.6 L832.0 4043.5 L833.9 4038.1 L846.0 4034.1 L850.6 4013.9 L858.1 4000.4 L859.5 3993.7 L850.6 3992.3 L846.0 3985.6 L839.3 3974.8 L824.4 3969.4 L823.1 3974.0 L818.2 3974.0 L819.9 3966.8 L802.9 3954.1 L803.7 3951.1 L823.1 3958.7 L844.6 3968.1 L856.8 3974.8 L858.7 3960.0 L864.0 3954.6 L863.5 3945.2 L867.5 3939.0 Z" fill="#435659" stroke="#435659" stroke-width="1.5" stroke-linejoin="round"/>
<path d="M872.9 4007.2 L893.1 4017.1 L899.9 4018.7 L901.8 4034.1 L858.7 4035.4 L862.2 4022.0 Z" fill="#fff" />
<text transform="translate(826.0,4072.5) scale(0.9714,1)" font-size="27.5" font-weight="normal" fill="#444d4f" text-anchor="start" >Defense</text>
<clipPath id="h4104"><rect x="29.6" y="4104.0" width="941.4" height="35.5"/></clipPath>
<path d="M-57.3 4139.5 l26.5 -35.5 h21.5 l-26.5 35.5 zM-20.5 4139.5 l26.5 -35.5 h21.5 l-26.5 35.5 zM16.4 4139.5 l26.5 -35.5 h21.5 l-26.5 35.5 zM53.3 4139.5 l26.5 -35.5 h21.5 l-26.5 35.5 zM90.1 4139.5 l26.5 -35.5 h21.5 l-26.5 35.5 zM127.0 4139.5 l26.5 -35.5 h21.5 l-26.5 35.5 zM163.9 4139.5 l26.5 -35.5 h21.5 l-26.5 35.5 zM200.8 4139.5 l26.5 -35.5 h21.5 l-26.5 35.5 zM237.6 4139.5 l26.5 -35.5 h21.5 l-26.5 35.5 zM274.5 4139.5 l26.5 -35.5 h21.5 l-26.5 35.5 zM311.4 4139.5 l26.5 -35.5 h21.5 l-26.5 35.5 zM348.2 4139.5 l26.5 -35.5 h21.5 l-26.5 35.5 zM385.1 4139.5 l26.5 -35.5 h21.5 l-26.5 35.5 zM422.0 4139.5 l26.5 -35.5 h21.5 l-26.5 35.5 zM458.8 4139.5 l26.5 -35.5 h21.5 l-26.5 35.5 zM495.7 4139.5 l26.5 -35.5 h21.5 l-26.5 35.5 zM532.6 4139.5 l26.5 -35.5 h21.5 l-26.5 35.5 zM569.5 4139.5 l26.5 -35.5 h21.5 l-26.5 35.5 zM606.3 4139.5 l26.5 -35.5 h21.5 l-26.5 35.5 zM643.2 4139.5 l26.5 -35.5 h21.5 l-26.5 35.5 zM680.1 4139.5 l26.5 -35.5 h21.5 l-26.5 35.5 zM716.9 4139.5 l26.5 -35.5 h21.5 l-26.5 35.5 zM753.8 4139.5 l26.5 -35.5 h21.5 l-26.5 35.5 zM790.7 4139.5 l26.5 -35.5 h21.5 l-26.5 35.5 zM827.5 4139.5 l26.5 -35.5 h21.5 l-26.5 35.5 zM864.4 4139.5 l26.5 -35.5 h21.5 l-26.5 35.5 zM901.3 4139.5 l26.5 -35.5 h21.5 l-26.5 35.5 zM938.2 4139.5 l26.5 -35.5 h21.5 l-26.5 35.5 zM975.0 4139.5 l26.5 -35.5 h21.5 l-26.5 35.5 z" fill="#f2f4f4" clip-path="url(#h4104)"/>
<text transform="translate(32.0,4200.0) scale(0.7518,1)" font-size="11.5" font-weight="bold" fill="#111111" text-anchor="start" stroke="#111111" stroke-width="0.30" stroke-linejoin="round" vector-effect="non-scaling-stroke" >Sources:</text>
<text transform="translate(32.0,4230.0) scale(0.8793,1)" font-size="11.5" font-weight="normal" fill="#111111" text-anchor="start" stroke="#111111" stroke-width="0.45" stroke-linejoin="round" vector-effect="non-scaling-stroke" >http://agileelements.wordpress.com/2008/04/22/cost-of-software-defects/</text>
<text transform="translate(32.0,4244.4) scale(0.8608,1)" font-size="11.5" font-weight="normal" fill="#111111" text-anchor="start" stroke="#111111" stroke-width="0.45" stroke-linejoin="round" vector-effect="non-scaling-stroke" >http://www.idi.ntnu.no/grupper/su/su-diploma-2010/dipl10-janmaxim.pdf</text>
<text transform="translate(32.0,4258.8) scale(0.8747,1)" font-size="11.5" font-weight="normal" fill="#111111" text-anchor="start" stroke="#111111" stroke-width="0.45" stroke-linejoin="round" vector-effect="non-scaling-stroke" >http://www.nist.gov/director/planning/upload/report02-3.pdf</text>
<text transform="translate(32.0,4273.2) scale(0.8747,1)" font-size="11.5" font-weight="normal" fill="#111111" text-anchor="start" stroke="#111111" stroke-width="0.45" stroke-linejoin="round" vector-effect="non-scaling-stroke" >http://www.nist.gov/director/planning/upload/report02-3.pdf</text>
<text transform="translate(32.0,4287.6) scale(0.8608,1)" font-size="11.5" font-weight="normal" fill="#111111" text-anchor="start" stroke="#111111" stroke-width="0.45" stroke-linejoin="round" vector-effect="non-scaling-stroke" >http://www.idi.ntnu.no/grupper/su/su-diploma-2010/dipl10-janmaxim.pdf</text>
<text transform="translate(32.0,4302.0) scale(0.8704,1)" font-size="11.5" font-weight="normal" fill="#111111" text-anchor="start" stroke="#111111" stroke-width="0.45" stroke-linejoin="round" vector-effect="non-scaling-stroke" >http://www.coverity.com/library/pdf/coverity-scan-2010-open-source-integrity-report.pdf</text>
<path d="M492.3 4204.9 A48.6 48.6 0 0 1 531.8 4227.7 L502.1 4233.6 Z" fill="#0b87ab"/>
<circle cx="501.4" cy="4234.9" r="7.0" fill="#0b87ab" />
<path d="M533.5 4230.7 A48.6 48.6 0 0 1 533.5 4276.3 L513.6 4253.5 Z" fill="#0b87ab"/>
<circle cx="512.1" cy="4253.5" r="7.0" fill="#0b87ab" />
<path d="M531.8 4279.3 A48.6 48.6 0 0 1 492.3 4302.1 L502.1 4273.4 Z" fill="#0b87ab"/>
<circle cx="501.4" cy="4272.1" r="7.0" fill="#0b87ab" />
<path d="M488.9 4302.1 A48.6 48.6 0 0 1 449.4 4279.3 L479.1 4273.4 Z" fill="#3b3a3c"/>
<circle cx="479.9" cy="4272.1" r="7.0" fill="#3b3a3c" />
<path d="M447.7 4276.3 A48.6 48.6 0 0 1 447.7 4230.7 L467.6 4253.5 Z" fill="#3b3a3c"/>
<circle cx="469.1" cy="4253.5" r="7.0" fill="#3b3a3c" />
<path d="M449.4 4227.7 A48.6 48.6 0 0 1 488.9 4204.9 L479.1 4233.6 Z" fill="#3b3a3c"/>
<circle cx="479.9" cy="4234.9" r="7.0" fill="#3b3a3c" />
<text transform="translate(549.0,4277.5) scale(0.9248,1)" font-size="74.0" font-weight="bold" fill="#3b3a3c" text-anchor="start" stroke="#3b3a3c" stroke-width="2.20" stroke-linejoin="round" vector-effect="non-scaling-stroke" >Source</text>
<text transform="translate(790.0,4277.5) scale(0.9728,1)" font-size="74.0" font-weight="bold" font-style="italic" fill="#1389b2" text-anchor="start" stroke="#1389b2" stroke-width="2.20" stroke-linejoin="round" vector-effect="non-scaling-stroke" >Ninja</text>
</svg>
</body></html>
